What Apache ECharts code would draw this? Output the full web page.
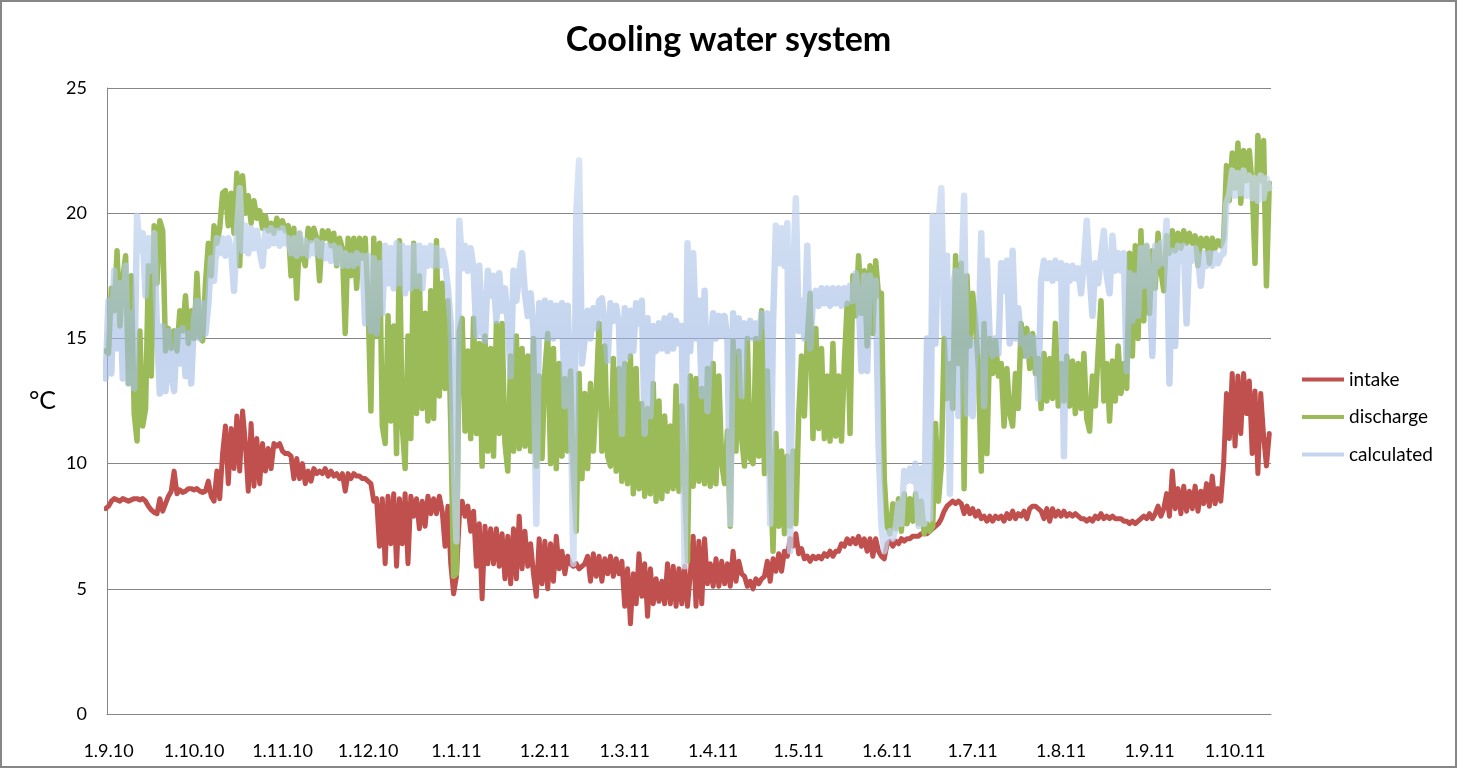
<!DOCTYPE html>
<html>
<head>
<meta charset="utf-8">
<script src="https://cdn.jsdelivr.net/npm/echarts@6/dist/echarts.min.js"></script>
<style>
html,body{margin:0;padding:0;background:#fff;}
#chart{width:1457px;height:768px;}
</style>
</head>
<body>
<div id="chart"></div>
<script>
// ---- data (one value per day, first value = 31.8.2010) ----
const startDate = [2010, 8, 31]; // year, month, day of first sample
const seriesNames = ['intake', 'discharge', 'calculated'];
const xTickLabels = ['1.9.10','1.10.10','1.11.10','1.12.10','1.1.11','1.2.11','1.3.11','1.4.11','1.5.11','1.6.11','1.7.11','1.8.11','1.9.11','1.10.11'];

const intake = [8.2,
8.3,8.5,8.6,8.55,8.5,8.6,8.55,8.5,8.55,8.6,
8.6,8.55,8.6,8.5,8.3,8.15,8.05,8.0,8.6,8.1,
8.4,8.7,8.9,9.7,8.8,8.95,8.85,8.9,9.0,9.0,
8.95,9.0,8.9,8.85,8.9,9.3,8.7,8.5,9.7,8.6,
10.4,11.5,9.2,11.4,9.8,11.9,9.7,12.1,10.8,8.9,
11.6,9.1,11.0,9.2,10.8,9.7,10.6,9.8,10.8,10.7,
10.8,10.5,10.4,10.4,10.3,9.4,10.2,9.4,10.0,9.2,
9.7,9.3,9.8,9.6,9.7,9.6,9.8,9.5,9.7,9.5,
9.6,9.4,9.6,8.9,9.6,9.4,9.6,9.5,9.5,9.4,
9.4,9.3,9.2,8.5,8.6,6.7,8.6,6.0,8.7,6.8,
8.8,5.9,8.6,6.8,8.8,6.0,8.7,7.9,8.6,7.4,
8.5,7.5,8.7,8.0,8.6,8.0,8.7,8.1,6.7,8.3,
6.0,4.8,5.5,7.9,8.5,7.9,8.3,7.3,8.1,5.9,
7.6,4.6,7.5,6.0,7.4,6.0,7.4,5.9,7.2,5.4,
7.1,5.2,7.4,5.4,7.9,5.8,7.3,5.9,6.8,5.6,
4.7,7.0,5.2,6.9,5.0,6.8,5.3,7.1,5.8,6.5,
5.6,6.3,6.0,5.9,6.0,5.8,5.9,6.0,6.3,5.3,
6.4,5.5,6.3,5.3,6.2,5.6,6.3,5.5,6.2,5.6,
6.1,4.3,5.8,3.6,5.6,4.4,6.4,4.7,6.0,3.9,
5.8,4.4,5.4,4.5,5.3,4.4,6.0,4.4,5.9,4.3,
5.8,4.4,5.9,4.3,5.6,7.1,4.3,6.9,4.4,7.0,
5.2,6.0,5.1,6.2,5.1,6.1,5.2,6.0,5.1,6.5,
5.3,6.1,5.6,5.5,5.1,5.3,5.0,5.4,5.2,5.4,
5.5,6.1,5.3,6.2,5.7,6.4,5.7,6.5,6.3,7.0,
6.7,7.2,6.4,6.6,6.2,6.3,6.1,6.3,6.2,6.3,
6.2,6.4,6.3,6.5,6.3,6.5,6.5,6.8,6.7,7.0,
6.8,7.0,6.8,7.1,6.7,7.0,6.5,7.0,6.3,7.0,
6.5,6.3,6.2,6.8,6.9,6.7,6.9,6.8,7.0,6.9,
7.0,7.0,7.1,7.1,7.1,7.2,7.2,7.2,7.3,7.4,
7.5,7.6,7.8,8.1,8.3,8.4,8.5,8.4,8.5,8.4,
8.0,8.3,8.0,8.2,7.9,8.1,7.8,7.9,7.7,7.9,
7.7,7.9,7.8,7.9,7.7,8.0,7.8,8.1,7.8,8.0,
7.9,8.1,7.8,8.2,8.3,8.3,8.2,8.1,7.8,8.2,
7.7,8.2,7.9,8.1,7.9,8.1,7.9,8.0,7.9,8.0,
7.9,7.8,7.8,7.7,7.8,7.7,7.9,7.8,8.0,7.8,
7.9,7.8,7.9,7.8,7.8,7.8,7.7,7.7,7.6,7.7,
7.6,7.7,7.8,7.9,7.8,8.0,7.8,8.0,8.3,7.9,
8.2,8.8,7.9,9.7,8.2,9.0,8.0,9.1,8.1,8.9,
8.2,9.1,8.1,8.9,8.4,9.2,8.3,9.5,8.4,9.0,
8.5,10.0,12.8,11.0,13.6,10.7,13.5,11.2,13.6,12.0,
13.3,10.4,12.9,9.6,12.8,11.1,9.9,11.2];

const discharge = [14.5,
14.4,17.0,16.1,18.5,15.5,17.4,18.3,13.2,17.5,12.0,
10.9,15.3,11.5,12.2,17.9,13.5,19.5,17.2,19.7,19.3,
14.5,15.4,14.6,15.3,14.5,16.1,15.3,16.7,14.8,16.1,
15.0,17.6,15.1,14.9,17.2,18.8,17.5,19.5,18.8,19.4,
20.8,20.9,19.5,20.8,19.2,21.6,17.9,21.5,20.0,20.7,
19.6,20.5,19.8,20.1,19.4,19.9,19.3,19.6,19.2,19.8,
19.4,19.7,19.3,19.5,17.5,19.4,16.6,19.2,18.3,17.9,
19.4,18.9,19.4,19.0,17.3,19.3,19.0,19.3,18.7,19.2,
17.9,19.0,18.6,15.2,19.0,17.5,19.0,17.0,19.0,18.2,
19.0,16.5,12.1,19.0,15.1,18.8,11.5,10.8,15.9,11.7,
15.5,10.4,18.9,11.5,9.8,15.1,11.0,18.8,12.0,17.5,
12.2,16.0,11.7,16.9,11.8,18.9,12.7,17.2,13.0,16.5,
11.5,5.5,5.6,15.3,15.8,11.3,14.5,11.0,15.8,11.2,
14.8,9.9,15.1,10.5,14.6,10.3,15.6,11.2,15.6,10.8,
9.7,14.3,10.5,15.1,10.6,14.6,10.7,14.3,10.5,15.0,
9.9,13.5,10.2,13.7,15.2,10.0,14.6,9.8,14.0,10.3,
13.4,10.5,13.7,9.5,7.3,13.6,9.4,12.8,9.8,13.2,
10.5,12.8,15.6,10.5,14.7,10.3,9.9,14.2,9.7,13.8,
9.3,14.0,9.2,14.3,8.8,13.8,9.0,12.4,8.7,12.2,
8.8,13.2,8.5,12.5,8.6,11.9,8.9,11.5,9.0,13.1,
8.9,12.3,9.2,6.1,13.5,9.1,13.4,9.3,13.0,9.2,
13.8,9.1,14.0,9.2,13.5,10.0,9.2,11.3,7.5,14.9,
10.5,14.5,11.0,9.9,15.0,10.2,10.0,15.0,10.3,16.1,
9.6,13.7,9.8,6.5,11.2,7.5,10.5,7.2,10.3,7.5,
10.5,7.6,11.9,14.3,11.9,15.0,16.8,11.0,15.4,11.4,
14.6,11.0,13.5,10.9,14.8,11.1,13.5,10.9,14.0,16.4,
11.2,17.5,15.9,18.3,16.0,17.7,14.7,17.9,15.2,18.1,
16.7,16.8,9.4,7.5,7.2,8.4,7.4,8.6,7.3,8.8,
7.6,8.6,7.7,8.8,7.6,8.5,7.2,7.6,7.3,7.5,
11.6,8.5,9.9,15.0,12.6,14.0,12.2,18.3,14.0,18.0,
9.0,17.5,14.7,16.8,15.6,13.8,9.7,15.6,10.4,15.0,
13.6,14.9,13.5,14.0,11.5,13.8,12.0,11.5,13.6,12.2,
15.6,14.3,15.4,13.8,15.2,13.6,14.2,12.2,14.4,12.5,
14.2,12.6,15.6,12.3,14.0,12.5,14.3,12.3,14.1,12.0,
14.0,12.2,14.4,11.8,11.3,13.5,12.3,14.5,16.5,12.5,
14.0,11.7,14.1,12.5,14.7,12.8,14.0,13.0,18.4,14.3,
18.7,15.0,19.3,15.7,18.7,16.0,18.5,17.0,19.2,17.7,
16.9,19.1,18.4,19.3,18.5,19.2,18.6,19.3,18.8,19.2,
18.8,19.1,17.9,19.0,18.7,19.0,18.0,19.0,18.6,18.9,
18.7,19.0,21.9,20.5,22.4,21.0,22.8,20.4,22.5,21.3,
22.5,21.1,18.0,23.1,21.3,22.9,17.1,21.2];

const calculated = [13.4,
16.5,13.6,17.7,14.6,17.2,13.4,17.9,13.2,16.0,13.0,
19.9,18.5,19.2,16.7,19.0,17.7,19.2,15.3,12.8,15.5,
12.9,15.3,13.5,12.9,15.3,14.0,15.4,13.5,15.2,13.2,
15.8,16.5,15.0,16.4,15.2,16.4,18.2,17.3,19.0,18.4,
19.0,18.3,19.0,18.5,16.9,19.2,21.0,18.5,19.5,18.4,
19.4,18.6,19.3,18.5,17.9,19.3,18.7,19.4,18.8,19.3,
18.7,19.4,18.8,19.0,18.4,19.0,18.3,19.2,18.4,18.9,
18.3,18.8,18.4,18.9,18.3,18.8,18.2,18.7,18.1,18.7,
18.0,18.6,17.9,18.4,17.9,18.3,17.9,18.4,18.0,18.3,
15.6,18.3,15.3,18.2,15.2,18.0,16.0,18.7,17.2,18.6,
17.0,18.8,17.2,18.7,16.8,18.6,17.0,18.7,17.1,18.7,
17.0,18.6,17.9,18.7,17.9,18.6,17.9,18.5,18.0,17.0,
15.6,10.3,6.9,19.7,17.8,18.7,17.7,18.6,17.8,15.1,
17.9,15.3,14.9,17.7,16.7,17.5,15.7,17.6,16.1,17.0,
15.6,13.5,17.7,16.5,17.6,18.4,16.8,15.9,16.8,15.4,
7.6,16.4,15.1,16.5,15.0,16.4,15.0,16.3,15.1,16.4,
12.3,16.3,13.0,6.0,20.0,22.1,14.0,15.0,16.1,15.0,
16.2,15.4,16.5,16.6,15.4,14.1,16.4,15.7,16.3,15.5,
11.2,16.2,14.3,16.1,14.5,16.4,15.6,16.5,11.2,15.8,
11.9,15.5,14.5,15.6,14.6,15.8,14.5,15.9,14.6,15.7,
14.8,15.5,5.9,18.8,14.5,18.4,15.0,16.5,12.7,16.9,
12.1,14.8,16.0,15.0,15.9,15.1,15.9,15.0,7.6,16.0,
14.5,15.8,12.7,15.6,15.0,15.7,15.0,15.6,15.0,16.0,
15.5,16.0,7.6,15.6,19.5,18.0,19.4,17.9,19.6,6.5,
17.5,20.6,15.3,16.5,15.0,18.7,14.6,16.5,16.9,16.3,
17.0,16.4,17.0,16.3,17.0,16.4,17.0,16.3,17.0,16.4,
17.1,16.5,17.6,16.6,13.7,17.5,13.7,17.5,16.7,17.3,
10.8,7.5,6.5,7.1,7.3,7.0,7.4,8.4,7.6,9.7,
9.3,9.8,9.3,10.0,7.5,9.8,7.6,15.0,7.8,19.9,
14.8,19.6,21.0,15.2,18.3,8.8,17.0,17.7,11.9,17.0,
20.7,12.0,15.0,11.9,14.8,14.5,19.2,12.3,18.1,14.9,
14.3,15.0,14.4,18.0,16.9,18.1,14.8,18.5,15.0,16.2,
14.8,15.0,14.3,15.1,14.4,15.0,12.6,17.3,18.1,17.4,
18.0,17.3,18.1,17.4,18.0,10.3,17.9,17.3,17.9,17.4,
17.8,16.8,18.0,19.7,17.5,15.9,18.0,17.2,18.3,19.3,
17.5,16.8,19.1,17.7,18.4,17.7,18.4,13.7,17.6,15.7,
17.5,15.9,18.6,17.1,18.7,17.2,14.3,18.7,17.9,18.8,
18.0,19.7,13.2,18.5,14.7,18.7,18.1,18.7,15.6,18.6,
18.1,18.6,18.2,17.1,18.4,17.9,18.4,17.9,18.4,18.0,
18.3,18.4,20.4,20.8,21.7,20.7,21.6,20.8,21.7,20.7,
21.5,20.6,21.4,20.5,21.5,20.6,21.4,21.0];

// ---- build ----
function dayTime(i) {
  return new Date(startDate[0], startDate[1] - 1, startDate[2] + i).getTime();
}
function toPairs(arr) { return arr.map((v, i) => [dayTime(i), v]); }
function parseLabel(s) {
  const p = s.split('.').map(Number);
  return new Date(2000 + p[2], p[1] - 1, p[0]).getTime();
}
const tickValues = xTickLabels.map(parseLabel);
const DAY = 86400000;
const xMin = tickValues[0] - 0.53 * DAY;
const xMax = tickValues[0] + 407.6 * DAY;

const FONT = 'Lato, "Open Sans", sans-serif';
const chart = echarts.init(document.getElementById('chart'), null, {renderer: 'canvas'});

const calcGradient = new echarts.graphic.LinearGradient(0, 0, 0, 1, [
  {offset: 0, color: 'rgba(205,220,243,0.75)'},
  {offset: 0.45, color: 'rgba(160,186,228,0.62)'},
  {offset: 1, color: 'rgba(200,215,240,0.75)'}
]);

chart.setOption({
  animation: false,
  backgroundColor: '#ffffff',
  title: {
    text: 'Cooling water system',
    left: 'center',
    top: 18,
    textStyle: {fontFamily: FONT, fontSize: 34, fontWeight: 'bold', color: '#000'}
  },
  legend: {
    orient: 'vertical',
    left: 1302,
    top: 370,
    padding: 0,
    icon: 'rect',
    itemWidth: 42,
    itemHeight: 4,
    itemGap: 18.5,
    data: seriesNames,
    textStyle: {fontFamily: FONT, fontSize: 19, color: '#000'}
  },
  grid: {left: 107, right: 186, top: 88, bottom: 54, containLabel: false},
  xAxis: {
    type: 'value',
    min: xMin,
    max: xMax,
    axisLine: {show: true, onZero: false, lineStyle: {color: '#868686', width: 1}},
    axisTick: {show: false},
    splitLine: {show: false},
    axisLabel: {
      customValues: tickValues,
      margin: 28,
      fontFamily: FONT,
      fontSize: 18,
      color: '#000',
      formatter: function (val) {
        const k = tickValues.findIndex(t => Math.abs(t - val) < DAY / 2);
        return k >= 0 ? xTickLabels[k] : '';
      }
    }
  },
  yAxis: {
    type: 'value',
    min: 0,
    max: 25,
    interval: 5,
    name: '\u00B0C',
    nameLocation: 'middle',
    nameRotate: 0,
    nameGap: 51,
    nameTextStyle: {fontFamily: FONT, fontSize: 25, color: '#000'},
    axisLine: {show: true, lineStyle: {color: '#868686', width: 1}},
    axisTick: {show: false},
    splitLine: {show: true, lineStyle: {color: '#868686', width: 1}},
    axisLabel: {margin: 20, fontFamily: FONT, fontSize: 18, color: '#000'}
  },
  series: [
    {
      name: seriesNames[0], type: 'line', data: toPairs(intake),
      showSymbol: false, symbol: 'none', color: '#C0504D',
      lineStyle: {width: 5, color: '#C0504D', join: 'round', cap: 'round'}
    },
    {
      name: seriesNames[1], type: 'line', data: toPairs(discharge),
      showSymbol: false, symbol: 'none', color: '#9BBB59',
      lineStyle: {width: 5.5, color: '#9BBB59', join: 'round', cap: 'round'}
    },
    {
      name: seriesNames[2], type: 'line', data: toPairs(calculated),
      showSymbol: false, symbol: 'none', color: '#C6D5EE',
      lineStyle: {width: 6.5, color: calcGradient, join: 'round', cap: 'round'}
    }
  ],
  graphic: [{
    type: 'rect', silent: true, z: 100,
    shape: {x: 1, y: 1, width: 1455, height: 766},
    style: {fill: 'none', stroke: '#868686', lineWidth: 2}
  }]
});
</script>
</body>
</html>
